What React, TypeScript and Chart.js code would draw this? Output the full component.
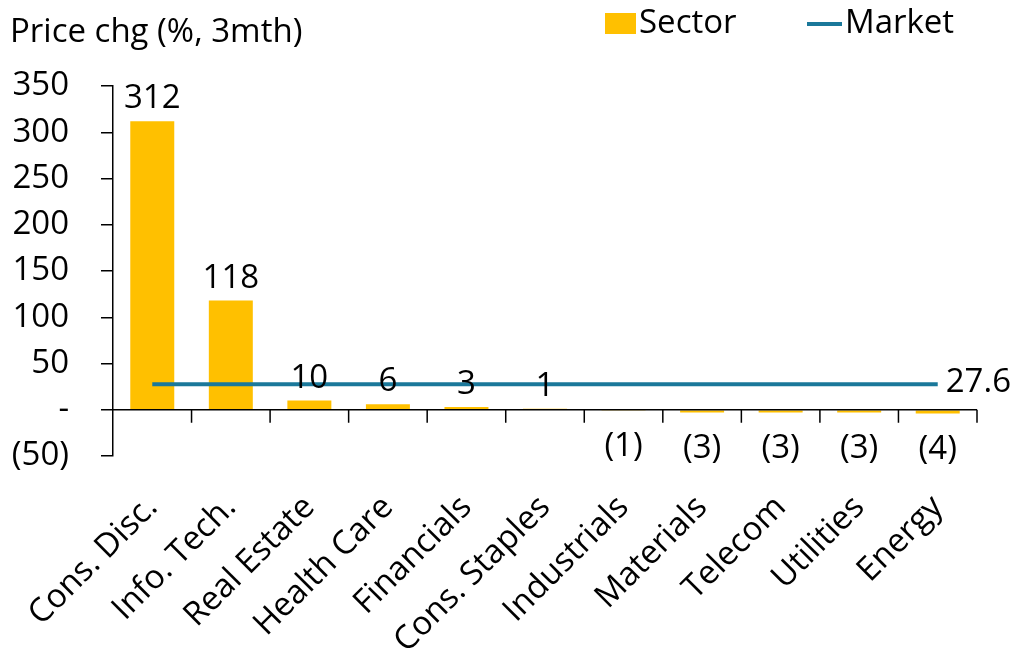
import React, { useEffect, useRef } from "react";
import { Chart, registerables } from "chart.js";

Chart.register(...registerables);

const categories = [
  "Cons. Disc.",
  "Info. Tech.",
  "Real Estate",
  "Health Care",
  "Financials",
  "Cons. Staples",
  "Industrials",
  "Materials",
  "Telecom",
  "Utilities",
  "Energy",
];
const sectorValues = [312, 118, 10, 6, 3, 1, -1, -3, -3, -3, -4];
const marketValue = 27.6;
const marketValues = categories.map(() => marketValue);
const yTicks = { min: -50, max: 350, step: 50 };

const FONT = "'Open Sans', sans-serif";
const FS = 33;
const GOLD = "#FFC000";
const TEAL = "#1A789A";

const fmt = (v: number) => (v === 0 ? "-" : v < 0 ? `(${Math.abs(v)})` : `${v}`);

const overlay = {
  id: "overlay",
  afterDatasetsDraw(chart: any) {
    const ctx = chart.ctx as CanvasRenderingContext2D;
    const x = chart.scales.x;
    const y = chart.scales.y;
    const area = chart.chartArea;
    ctx.save();
    // zero line with category boundary ticks
    const y0 = y.getPixelForValue(0);
    ctx.strokeStyle = "#000";
    ctx.lineWidth = 1.5;
    ctx.beginPath();
    ctx.moveTo(area.left, y0);
    ctx.lineTo(area.right, y0);
    const n = categories.length;
    for (let i = 1; i <= n; i++) {
      const bx = (x.getPixelForValue(i - 1) + (i < n ? x.getPixelForValue(i) : 2 * x.getPixelForValue(i - 1) - x.getPixelForValue(i - 2))) / 2;
      ctx.moveTo(bx, y0);
      ctx.lineTo(bx, y0 + 13);
    }
    ctx.stroke();

    // data labels
    ctx.fillStyle = "#000";
    ctx.font = `${FS}px ${FONT}`;
    ctx.textAlign = "center";
    const barMeta = chart.getDatasetMeta(1);
    barMeta.data.forEach((el: any, i: number) => {
      const v = sectorValues[i];
      if (v >= 0) {
        ctx.textBaseline = "alphabetic";
        ctx.fillText(fmt(v), el.x, el.y - 13);
      } else {
        ctx.textBaseline = "middle";
        ctx.fillText(fmt(v), el.x, el.y + 36);
      }
    });
    const lineMeta = chart.getDatasetMeta(0);
    const last = lineMeta.data[lineMeta.data.length - 1];
    ctx.textAlign = "left";
    ctx.textBaseline = "middle";
    ctx.fillText(String(marketValue), last.x + 8, last.y - 2);

    // title
    ctx.textBaseline = "middle";
    ctx.fillText("Price chg (%, 3mth)", 10, 33);

    // legend
    ctx.fillStyle = GOLD;
    ctx.fillRect(605, 13, 31, 21);
    ctx.fillStyle = "#000";
    ctx.fillText(chart.data.datasets[1].label, 639, 24);
    ctx.strokeStyle = TEAL;
    ctx.lineWidth = 4;
    ctx.beginPath();
    ctx.moveTo(807, 24);
    ctx.lineTo(842, 24);
    ctx.stroke();
    ctx.fillText(chart.data.datasets[0].label, 845, 24);
    ctx.restore();
  },
};

export default function App() {
  const ref = useRef<HTMLCanvasElement>(null);
  useEffect(() => {
    if (!ref.current) return;
    const chart = new Chart(ref.current, {
      type: "bar",
      data: {
        labels: categories,
        datasets: [
          {
            type: "line",
            label: "Market",
            data: marketValues,
            borderColor: TEAL,
            backgroundColor: TEAL,
            borderWidth: 4,
            pointRadius: 0,
            order: 0,
          } as any,
          {
            type: "bar",
            label: "Sector",
            data: sectorValues,
            backgroundColor: GOLD,
            barPercentage: 0.56,
            categoryPercentage: 1,
            order: 1,
          },
        ],
      },
      options: {
        animation: false,
        responsive: true,
        maintainAspectRatio: false,
        layout: { padding: { top: 86, right: 47, left: 0, bottom: 0 } },
        plugins: { legend: { display: false }, tooltip: { enabled: false } },
        scales: {
          x: {
            grid: { display: false },
            border: { display: false },
            afterFit: (s: any) => {
              s.height = 208;
            },
            ticks: {
              autoSkip: false,
              maxRotation: 45,
              minRotation: 45,
              padding: 24,
              color: "#000",
              font: { family: FONT, size: FS },
            },
          },
          y: {
            min: yTicks.min,
            max: yTicks.max,
            afterFit: (s: any) => {
              s.width = 113;
            },
            grid: {
              drawOnChartArea: false,
              drawTicks: true,
              tickLength: 12,
              color: "#000",
              lineWidth: 1.5,
            },
            border: { display: true, color: "#000", width: 1.5 },
            ticks: {
              stepSize: yTicks.step,
              padding: 32,
              color: "#000",
              font: { family: FONT, size: FS },
              callback: (v: any) => fmt(Number(v)),
            },
          },
        },
      },
      plugins: [overlay],
    });
    return () => chart.destroy();
  }, []);
  return (
    <div style={{ position: "fixed", left: 0, top: 0, width: 1024, height: 664, background: "#fff" }}>
      <canvas ref={ref} />
    </div>
  );
}
